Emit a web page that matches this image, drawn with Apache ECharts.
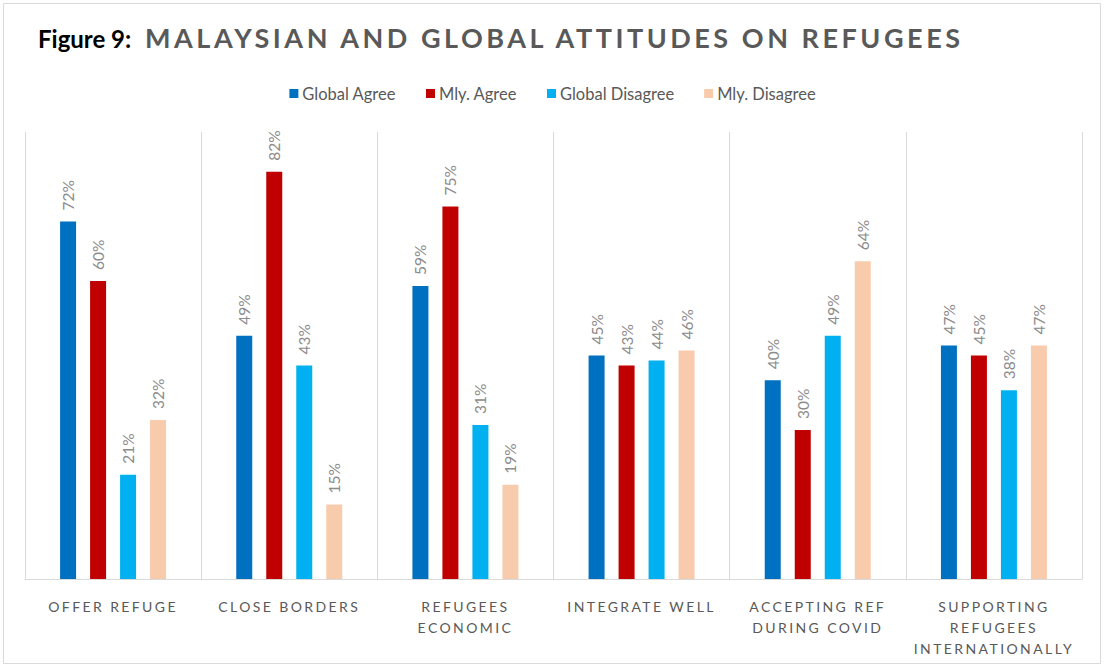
<!DOCTYPE html>
<html>
<head>
<meta charset="utf-8">
<script src="https://cdn.jsdelivr.net/npm/echarts@6/dist/echarts.min.js"></script>
<style>
  html, body { margin: 0; padding: 0; background: #fff; }
  #chart { width: 1105px; height: 669px; }
</style>
</head>
<body>
<div id="chart"></div>
<script>
const categories = ['OFFER REFUGE', 'CLOSE BORDERS', 'REFUGEES\nECONOMIC', 'INTEGRATE WELL', 'ACCEPTING REF\nDURING COVID', 'SUPPORTING\nREFUGEES\nINTERNATIONALLY'];
const seriesNames = ['Global Agree', 'Mly. Agree', 'Global Disagree', 'Mly. Disagree'];
const globalAgree = [72, 49, 59, 45, 40, 47];
const mlyAgree = [60, 82, 75, 43, 30, 45];
const globalDisagree = [21, 43, 31, 44, 49, 38];
const mlyDisagree = [32, 15, 19, 46, 64, 47];
const colors = ['#0070C0', '#C00000', '#00B0F0', '#F8CBAD'];
const titleLead = 'Figure 9:';
const titleMain = 'MALAYSIAN AND GLOBAL ATTITUDES ON REFUGEES';

const FONT = 'Lato, "Open Sans", sans-serif';
const chart = echarts.init(document.getElementById('chart'), null, { renderer: 'svg' });

const seriesData = [globalAgree, mlyAgree, globalDisagree, mlyDisagree];
const series = seriesData.map((d, i) => ({
  name: seriesNames[i],
  type: 'bar',
  data: d,
  barWidth: 16,
  barGap: '87.5%',
  itemStyle: { color: colors[i] },
  label: {
    show: true,
    position: 'top',
    rotate: 90,
    align: 'left',
    verticalAlign: 'middle',
    distance: 11,
    formatter: '{c}%',
    color: '#8c8c8c',
    fontSize: 15.5,
    fontFamily: FONT
  }
}));

chart.setOption({
  animation: false,
  backgroundColor: '#fff',
  title: [
    { text: titleLead, left: 38, top: 26, padding: 0, textStyle: { fontFamily: FONT, fontWeight: 'bold', fontSize: 24, color: '#000' } },
    { text: titleMain, left: 145, top: 24, padding: 0, textStyle: { fontFamily: FONT, fontWeight: 'bold', fontSize: 27, color: '#595959' } }
  ],
  legend: {
    data: seriesNames,
    left: 'center',
    top: 80,
    icon: 'rect',
    itemWidth: 9,
    itemHeight: 9,
    itemGap: 30,
    textStyle: { fontFamily: FONT, fontSize: 16.5, color: '#595959', padding: [0, 0, 0, -1] }
  },
  graphic: [{
    type: 'rect',
    shape: { x: 3.5, y: 3.5, width: 1097, height: 660 },
    style: { fill: 'none', stroke: '#d9d9d9', lineWidth: 1 },
    silent: true
  }],
  grid: { left: 25, right: 23, top: 132, bottom: 90 },
  xAxis: {
    type: 'category',
    data: categories,
    axisLine: { lineStyle: { color: '#d9d9d9', width: 1 } },
    axisTick: { show: false },
    splitLine: { show: true, interval: 0, lineStyle: { color: '#d9d9d9', width: 1 } },
    axisLabel: {
      interval: 0,
      margin: 17,
      color: '#595959',
      fontSize: 14,
      lineHeight: 21,
      fontFamily: FONT
    }
  },
  yAxis: {
    type: 'value',
    min: 0,
    max: 90,
    show: false,
    splitLine: { show: false }
  },
  series: series
});

function applySpacing() {
  const lines = new Set();
  categories.forEach(c => c.split('\n').forEach(l => lines.add(l)));
  const texts = chart.getDom().querySelectorAll('text');
  texts.forEach(t => {
    const s = t.textContent;
    if (lines.has(s)) {
      t.style.letterSpacing = '2.4px';
    } else if (s === titleMain) {
      t.setAttribute('textLength', 815);
      t.setAttribute('lengthAdjust', 'spacing');
    }
  });
}
applySpacing();
chart.on('finished', applySpacing);
</script>
</body>
</html>
